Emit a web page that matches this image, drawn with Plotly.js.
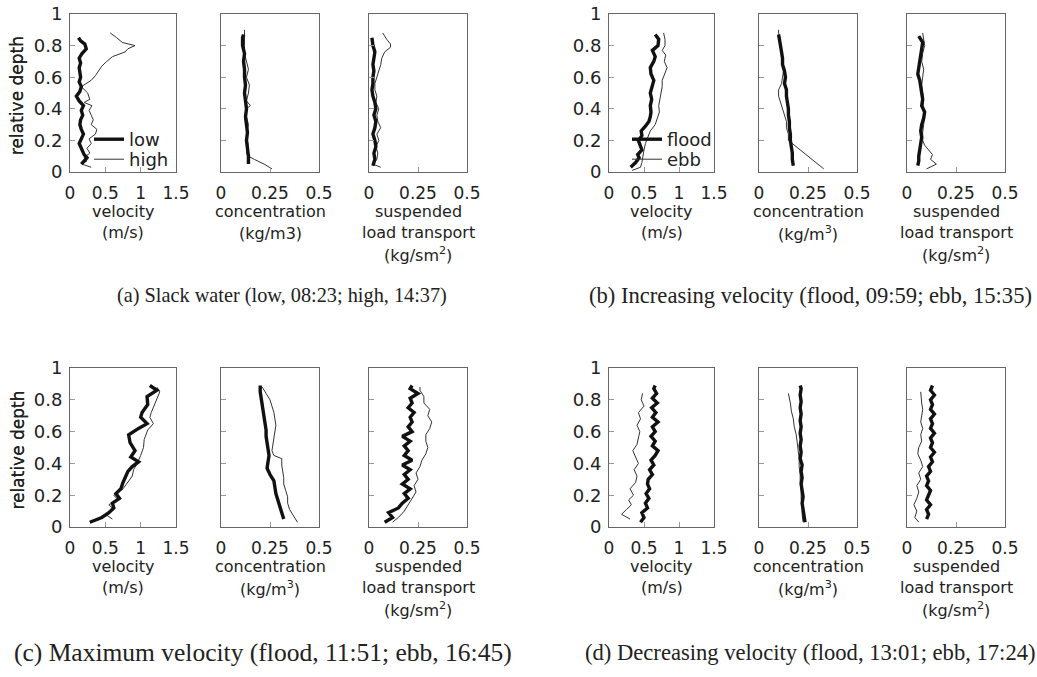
<!DOCTYPE html>
<html><head><meta charset="utf-8">
<script src="https://cdn.plot.ly/plotly-3.0.1.min.js"></script>
<style>html,body{margin:0;padding:0;background:#fff}#chart{width:1037px;height:677px}</style>
</head><body><div id="chart"></div>
<script>
// ---- (a) Slack water ----
const a_vel_low_d = [0.05,0.07,0.09,0.11,0.13,0.15,0.18,0.21,0.24,0.27,0.30,0.33,0.36,0.39,0.42,0.45,0.48,0.51,0.54,0.57,0.60,0.63,0.66,0.69,0.72,0.75,0.78,0.81,0.83,0.85];
const a_vel_low_v = [0.16,0.20,0.24,0.20,0.18,0.17,0.13,0.16,0.19,0.16,0.14,0.15,0.18,0.16,0.19,0.13,0.09,0.14,0.16,0.13,0.15,0.14,0.13,0.15,0.13,0.17,0.23,0.21,0.15,0.12];
const a_vel_high_d = [0.03,0.05,0.07,0.09,0.12,0.15,0.18,0.21,0.24,0.27,0.30,0.33,0.36,0.39,0.42,0.44,0.46,0.50,0.54,0.56,0.58,0.61,0.64,0.67,0.70,0.73,0.76,0.78,0.80,0.82,0.85,0.88];
const a_vel_high_v = [0.30,0.17,0.24,0.20,0.28,0.24,0.30,0.27,0.36,0.38,0.30,0.33,0.30,0.27,0.31,0.20,0.28,0.25,0.16,0.24,0.30,0.36,0.40,0.45,0.52,0.60,0.78,0.82,0.92,0.74,0.66,0.57];
const a_conc_low_d = [0.05,0.10,0.15,0.20,0.25,0.30,0.35,0.40,0.45,0.50,0.55,0.60,0.65,0.70,0.75,0.80,0.85,0.87];
const a_conc_low_c = [0.14,0.14,0.135,0.13,0.135,0.13,0.125,0.13,0.125,0.12,0.125,0.12,0.12,0.115,0.12,0.11,0.11,0.115];
const a_conc_high_d = [0.02,0.05,0.08,0.10,0.12,0.15,0.20,0.25,0.30,0.35,0.40,0.42,0.45,0.50,0.55,0.60,0.65,0.70,0.75,0.80,0.85,0.90];
const a_conc_high_c = [0.26,0.22,0.17,0.14,0.13,0.14,0.135,0.13,0.14,0.13,0.13,0.15,0.13,0.14,0.145,0.13,0.14,0.13,0.12,0.12,0.12,0.12];
const a_susp_low_d = [0.04,0.08,0.12,0.16,0.20,0.24,0.28,0.32,0.36,0.40,0.44,0.48,0.52,0.56,0.60,0.64,0.68,0.72,0.76,0.80,0.85];
const a_susp_low_s = [0.02,0.03,0.025,0.035,0.03,0.02,0.03,0.035,0.025,0.035,0.03,0.02,0.015,0.02,0.02,0.025,0.02,0.025,0.03,0.02,0.015];
const a_susp_high_d = [0.03,0.05,0.08,0.12,0.16,0.20,0.24,0.28,0.32,0.36,0.40,0.44,0.48,0.52,0.56,0.60,0.64,0.68,0.72,0.76,0.79,0.81,0.84,0.88];
const a_susp_high_s = [0.06,0.02,0.04,0.045,0.035,0.05,0.04,0.06,0.045,0.04,0.05,0.035,0.04,0.03,0.03,0.04,0.05,0.06,0.065,0.08,0.11,0.11,0.09,0.07];
// ---- (b) Increasing velocity ----
const b_vel_flood_d = [0.03,0.06,0.09,0.11,0.14,0.17,0.20,0.23,0.26,0.29,0.32,0.35,0.38,0.42,0.46,0.50,0.54,0.58,0.62,0.66,0.70,0.73,0.77,0.80,0.84,0.87];
const b_vel_flood_v = [0.31,0.38,0.43,0.41,0.47,0.44,0.42,0.47,0.46,0.52,0.57,0.59,0.60,0.59,0.61,0.59,0.62,0.64,0.60,0.59,0.64,0.66,0.62,0.70,0.71,0.66];
const b_vel_ebb_d = [0.01,0.03,0.06,0.10,0.14,0.18,0.22,0.26,0.30,0.34,0.38,0.42,0.46,0.50,0.54,0.58,0.62,0.66,0.70,0.74,0.77,0.80,0.84,0.88];
const b_vel_ebb_v = [0.33,0.45,0.47,0.48,0.50,0.52,0.55,0.59,0.66,0.69,0.72,0.71,0.73,0.74,0.76,0.76,0.80,0.83,0.79,0.81,0.76,0.80,0.80,0.78];
const b_conc_flood_d = [0.04,0.08,0.12,0.16,0.20,0.24,0.28,0.32,0.36,0.40,0.44,0.48,0.52,0.56,0.60,0.64,0.68,0.72,0.76,0.80,0.84,0.87];
const b_conc_flood_c = [0.175,0.17,0.17,0.165,0.16,0.16,0.155,0.155,0.15,0.15,0.145,0.14,0.14,0.13,0.135,0.13,0.12,0.12,0.115,0.11,0.105,0.10];
const b_conc_ebb_d = [0.02,0.06,0.10,0.14,0.18,0.20,0.24,0.28,0.32,0.36,0.40,0.44,0.48,0.52,0.56,0.60,0.64,0.68,0.72,0.76,0.80,0.84,0.88,0.90];
const b_conc_ebb_c = [0.33,0.29,0.25,0.21,0.17,0.15,0.15,0.14,0.14,0.13,0.12,0.11,0.10,0.10,0.115,0.12,0.125,0.12,0.12,0.115,0.11,0.11,0.10,0.10];
const b_susp_flood_d = [0.04,0.07,0.10,0.14,0.18,0.22,0.26,0.30,0.34,0.38,0.42,0.46,0.50,0.54,0.58,0.62,0.66,0.70,0.74,0.78,0.82,0.86];
const b_susp_flood_s = [0.055,0.06,0.06,0.065,0.07,0.075,0.07,0.075,0.085,0.09,0.075,0.08,0.075,0.07,0.065,0.055,0.06,0.065,0.07,0.075,0.08,0.06];
const b_susp_ebb_d = [0.02,0.05,0.08,0.11,0.14,0.17,0.20,0.25,0.30,0.35,0.40,0.45,0.50,0.55,0.60,0.65,0.70,0.75,0.80,0.85,0.88];
const b_susp_ebb_s = [0.10,0.15,0.12,0.13,0.11,0.09,0.08,0.08,0.085,0.09,0.08,0.085,0.08,0.075,0.08,0.085,0.075,0.08,0.09,0.085,0.08];
// ---- (c) Maximum velocity ----
const c_vel_flood_d = [0.03,0.06,0.09,0.12,0.15,0.18,0.21,0.24,0.28,0.31,0.35,0.38,0.41,0.44,0.48,0.53,0.58,0.62,0.65,0.69,0.72,0.77,0.82,0.86,0.89];
const c_vel_flood_v = [0.28,0.45,0.55,0.62,0.60,0.70,0.65,0.72,0.75,0.78,0.82,0.88,0.97,0.86,0.92,0.85,0.83,0.97,1.09,1.00,1.02,1.10,1.09,1.23,1.13];
const c_vel_ebb_d = [0.05,0.08,0.11,0.14,0.17,0.20,0.24,0.28,0.32,0.36,0.40,0.45,0.50,0.55,0.61,0.65,0.69,0.72,0.75,0.80,0.85,0.88];
const c_vel_ebb_v = [0.60,0.50,0.62,0.55,0.68,0.62,0.75,0.82,0.88,0.90,0.95,1.00,1.04,1.05,1.10,1.18,1.13,1.15,1.18,1.22,1.27,1.23];
const c_conc_flood_d = [0.05,0.09,0.13,0.17,0.21,0.25,0.29,0.33,0.37,0.41,0.45,0.49,0.53,0.57,0.61,0.65,0.69,0.73,0.77,0.81,0.85,0.89];
const c_conc_flood_c = [0.32,0.31,0.30,0.29,0.28,0.275,0.27,0.25,0.235,0.24,0.245,0.24,0.235,0.23,0.23,0.225,0.22,0.215,0.21,0.205,0.20,0.20];
const c_conc_ebb_d = [0.03,0.07,0.11,0.15,0.19,0.23,0.27,0.31,0.35,0.39,0.43,0.45,0.48,0.52,0.56,0.60,0.64,0.68,0.72,0.76,0.80,0.84,0.88];
const c_conc_ebb_c = [0.39,0.37,0.35,0.34,0.34,0.33,0.32,0.32,0.315,0.31,0.31,0.27,0.26,0.265,0.27,0.275,0.28,0.275,0.27,0.26,0.25,0.23,0.21];
const c_susp_flood_d = [0.03,0.06,0.09,0.12,0.15,0.18,0.21,0.24,0.27,0.30,0.33,0.36,0.39,0.42,0.45,0.48,0.51,0.54,0.57,0.60,0.63,0.66,0.69,0.72,0.75,0.78,0.81,0.84,0.87,0.89];
const c_susp_flood_s = [0.08,0.12,0.10,0.15,0.17,0.20,0.18,0.21,0.17,0.20,0.18,0.21,0.17,0.22,0.18,0.20,0.18,0.21,0.17,0.22,0.20,0.22,0.21,0.23,0.20,0.22,0.21,0.25,0.21,0.22];
const c_susp_ebb_d = [0.03,0.06,0.10,0.14,0.18,0.22,0.26,0.30,0.34,0.38,0.42,0.46,0.50,0.54,0.58,0.62,0.66,0.70,0.74,0.78,0.82,0.86,0.88];
const c_susp_ebb_s = [0.12,0.15,0.18,0.20,0.22,0.24,0.23,0.25,0.24,0.26,0.27,0.29,0.30,0.29,0.29,0.31,0.32,0.30,0.31,0.28,0.28,0.26,0.26];
// ---- (d) Decreasing velocity ----
const d_vel_flood_d = [0.03,0.06,0.09,0.12,0.15,0.18,0.21,0.24,0.27,0.30,0.33,0.36,0.39,0.42,0.45,0.48,0.51,0.54,0.57,0.60,0.63,0.66,0.69,0.72,0.75,0.78,0.81,0.84,0.87,0.89];
const d_vel_flood_v = [0.45,0.50,0.47,0.55,0.52,0.57,0.53,0.58,0.55,0.56,0.62,0.58,0.64,0.60,0.66,0.70,0.62,0.66,0.60,0.66,0.62,0.70,0.62,0.67,0.61,0.69,0.62,0.68,0.64,0.66];
const d_vel_ebb_d = [0.05,0.08,0.11,0.14,0.17,0.20,0.24,0.28,0.32,0.36,0.40,0.44,0.48,0.52,0.56,0.60,0.64,0.68,0.72,0.76,0.80,0.84];
const d_vel_ebb_v = [0.30,0.18,0.25,0.32,0.28,0.35,0.30,0.38,0.40,0.36,0.42,0.38,0.34,0.40,0.42,0.44,0.40,0.45,0.42,0.50,0.46,0.48];
const d_conc_flood_d = [0.03,0.07,0.11,0.15,0.19,0.23,0.27,0.31,0.35,0.39,0.43,0.47,0.51,0.55,0.59,0.63,0.67,0.71,0.75,0.79,0.83,0.87,0.89];
const d_conc_flood_c = [0.235,0.23,0.225,0.22,0.225,0.22,0.215,0.22,0.215,0.22,0.21,0.215,0.21,0.215,0.21,0.215,0.21,0.215,0.21,0.215,0.21,0.215,0.21];
const d_conc_ebb_d = [0.03,0.08,0.13,0.18,0.23,0.28,0.33,0.38,0.43,0.48,0.53,0.58,0.63,0.68,0.73,0.78,0.84];
const d_conc_ebb_c = [0.225,0.22,0.22,0.215,0.215,0.21,0.21,0.205,0.205,0.20,0.195,0.19,0.18,0.175,0.165,0.16,0.15];
const d_susp_flood_d = [0.05,0.08,0.11,0.14,0.17,0.20,0.23,0.26,0.29,0.32,0.35,0.38,0.41,0.44,0.47,0.50,0.53,0.56,0.59,0.62,0.65,0.68,0.71,0.74,0.77,0.80,0.83,0.86,0.89];
const d_susp_flood_s = [0.10,0.11,0.10,0.12,0.10,0.11,0.12,0.10,0.11,0.10,0.12,0.11,0.13,0.12,0.14,0.12,0.13,0.12,0.14,0.12,0.13,0.12,0.14,0.12,0.13,0.12,0.14,0.12,0.13];
const d_susp_ebb_d = [0.03,0.06,0.10,0.14,0.18,0.22,0.26,0.30,0.34,0.38,0.42,0.46,0.50,0.54,0.58,0.62,0.66,0.70,0.74,0.78,0.82,0.85];
const d_susp_ebb_s = [0.06,0.04,0.05,0.035,0.05,0.06,0.05,0.07,0.06,0.08,0.07,0.055,0.06,0.075,0.07,0.08,0.07,0.075,0.08,0.075,0.07,0.07];

// labels
const velTicks = [0, 0.5, 1, 1.5];
const smallTicks = [0, 0.25, 0.5];
const depthTicks = [0, 0.2, 0.4, 0.6, 0.8, 1];
const captions = [
  "(a) Slack water (low, 08:23; high, 14:37)",
  "(b) Increasing velocity (flood, 09:59; ebb, 15:35)",
  "(c) Maximum velocity (flood, 11:51; ebb, 16:45)",
  "(d) Decreasing velocity (flood, 13:01; ebb, 17:24)"
];
const legendNames = [["low","high"],["flood","ebb"]];

// ---- layout geometry (pixels) ----
const W = 1037, H = 677;
const px = x => x / W, py = y => 1 - y / H;
const colX = [[70,176],[221,319],[369,467],[609,714],[759,857],[907,1005]];
const rowY = [[14,172],[368,527]];

const panels = [
  [a_vel_low_v, a_vel_low_d, a_vel_high_v, a_vel_high_d, 'vel'],
  [a_conc_low_c, a_conc_low_d, a_conc_high_c, a_conc_high_d, 'conc'],
  [a_susp_low_s, a_susp_low_d, a_susp_high_s, a_susp_high_d, 'susp'],
  [b_vel_flood_v, b_vel_flood_d, b_vel_ebb_v, b_vel_ebb_d, 'vel'],
  [b_conc_flood_c, b_conc_flood_d, b_conc_ebb_c, b_conc_ebb_d, 'conc'],
  [b_susp_flood_s, b_susp_flood_d, b_susp_ebb_s, b_susp_ebb_d, 'susp'],
  [c_vel_flood_v, c_vel_flood_d, c_vel_ebb_v, c_vel_ebb_d, 'vel'],
  [c_conc_flood_c, c_conc_flood_d, c_conc_ebb_c, c_conc_ebb_d, 'conc'],
  [c_susp_flood_s, c_susp_flood_d, c_susp_ebb_s, c_susp_ebb_d, 'susp'],
  [d_vel_flood_v, d_vel_flood_d, d_vel_ebb_v, d_vel_ebb_d, 'vel'],
  [d_conc_flood_c, d_conc_flood_d, d_conc_ebb_c, d_conc_ebb_d, 'conc'],
  [d_susp_flood_s, d_susp_flood_d, d_susp_ebb_s, d_susp_ebb_d, 'susp']
];

const FONT = 'DejaVu Sans, Verdana, sans-serif';
const FS = 16;
const traces = [];
const legBox = (x, y) => ({x: px(x), y: py(y), xanchor: 'left', yanchor: 'top', bgcolor: 'rgba(0,0,0,0)',
  font: {family: FONT, size: 18, color: '#222'}, itemwidth: 30, tracegroupgap: 0, borderwidth: 0});
const layout = {
  width: W, height: H, margin: {l:0, r:0, t:0, b:0},
  paper_bgcolor: '#fff', plot_bgcolor: '#fff', showlegend: true,
  font: {family: FONT, size: FS, color: '#222'},
  annotations: [],
  legend: legBox(89, 121),
  legend2: legBox(89, 141),
  legend3: legBox(627, 121),
  legend4: legBox(627, 141)
};
const legendIds = {0: ['legend', 'legend2'], 3: ['legend3', 'legend4']};

panels.forEach((p, i) => {
  const n = i + 1;
  const xa = 'x' + (n === 1 ? '' : n), ya = 'y' + (n === 1 ? '' : n);
  const xk = 'xaxis' + (n === 1 ? '' : n), yk = 'yaxis' + (n === 1 ? '' : n);
  const col = colX[i % 6], row = rowY[Math.floor(i / 6)];
  const kind = p[4];
  const isVel = kind === 'vel';
  const legs = legendIds[i];
  const names = i === 0 ? legendNames[0] : legendNames[1];
  traces.push({x: p[2], y: p[3], xaxis: xa, yaxis: ya, mode: 'lines', type: 'scatter',
    name: names[1], line: {color: '#333', width: 1}, showlegend: !!legs, legend: legs ? legs[1] : 'legend',
    hoverinfo: 'skip'});
  traces.push({x: p[0], y: p[1], xaxis: xa, yaxis: ya, mode: 'lines', type: 'scatter',
    name: names[0], line: {color: '#111', width: 3.4}, showlegend: !!legs, legend: legs ? legs[0] : 'legend',
    hoverinfo: 'skip'});
  layout[xk] = {
    domain: [px(col[0]), px(col[1])], anchor: ya, range: isVel ? [0, 1.5] : [0, 0.5],
    tickvals: isVel ? velTicks : smallTicks, ticktext: (isVel ? velTicks : smallTicks).map(String),
    ticks: 'inside', ticklen: 5, tickcolor: '#999', showgrid: false, zeroline: false,
    showline: true, linecolor: '#666', linewidth: 1, mirror: true, ticklabelstandoff: 6,
    tickfont: {family: FONT, size: 17, color: '#222'}, fixedrange: true
  };
  layout[yk] = {
    domain: [py(row[1]), py(row[0])], anchor: xa, range: [0, 1],
    tickvals: depthTicks, ticktext: depthTicks.map(String), showticklabels: isVel,
    ticks: 'inside', ticklen: 5, tickcolor: '#999', showgrid: false, zeroline: false,
    showline: true, linecolor: '#666', linewidth: 1, mirror: true, ticklabelstandoff: 3,
    tickfont: {family: FONT, size: 18, color: '#222'}, fixedrange: true
  };
  const cx = px((col[0] + col[1]) / 2);
  const base = row[1];
  let lines;
  if (kind === 'vel') lines = [['velocity', 39], ['(m/s)', 60]];
  else if (kind === 'conc') lines = [['concentration', 39], [i === 1 ? '(kg/m3)' : '(kg/m<sup>3</sup>)', 61]];
  else lines = [['suspended', 39], ['load transport', 60], ['(kg/sm<sup>2</sup>)', 82]];
  lines.forEach(([t, dy]) => layout.annotations.push({
    text: t, xref: 'paper', yref: 'paper', x: cx, y: py(base + dy), xanchor: 'center', yanchor: 'middle',
    showarrow: false, font: {family: FONT, size: FS, color: '#222'}
  }));
  if (isVel) layout.annotations.push({
    text: 'relative depth', xref: 'paper', yref: 'paper', x: px(17), y: py((row[0] + row[1]) / 2 + 3),
    xanchor: 'center', yanchor: 'middle', textangle: -90, showarrow: false,
    font: {family: FONT, size: 17, color: '#222'}
  });
});

const capPos = [[282, 295, 20.3], [810, 295, 22.6], [263, 652, 25.5], [810, 652, 22.6]];
captions.forEach((t, k) => layout.annotations.push({
  text: t, xref: 'paper', yref: 'paper', x: px(capPos[k][0]), y: py(capPos[k][1]),
  xanchor: 'center', yanchor: 'middle', showarrow: false,
  font: {family: 'Liberation Serif, Times New Roman, serif', size: capPos[k][2], color: '#222'}
}));

Plotly.newPlot('chart', traces, layout, {staticPlot: true, displayModeBar: false});
</script></body></html>
